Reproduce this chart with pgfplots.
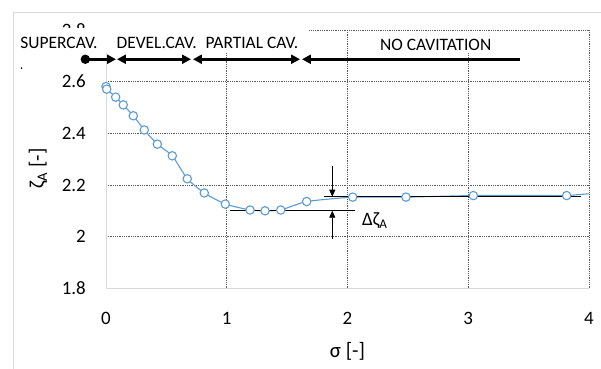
\documentclass[border=0pt]{standalone}
\usepackage{fontspec}
\setmainfont{Carlito}
\usepackage{pgfplots}
\pgfplotsset{compat=1.18}
\usetikzlibrary{arrows.meta}
\definecolor{exblue}{RGB}{91,155,213}
\definecolor{lgray}{RGB}{217,217,217}
\definecolor{ggray}{RGB}{90,90,90}
\begin{document}
\begin{tikzpicture}
\useasboundingbox (-106bp,-80.7bp) rectangle (495bp,288.3bp);
\draw[lgray, line width=0.8bp] (-93bp,-120bp) -- (-93bp,276.3bp) -- (520bp,276.3bp);
\begin{axis}[
 at={(0,0)}, anchor=south west,
 scale only axis, width=483bp, height=258.3bp,
 xmin=0, xmax=4, ymin=1.8, ymax=2.8,
 clip=false,
 axis x line*=bottom, axis y line*=left,
 axis line style={lgray, line width=0.9bp, -},
 xtick={1,2,3,4}, extra x ticks={0}, extra x tick style={grid=none},
 ytick={2,2.2,2.4,2.6,2.8}, extra y ticks={1.8}, extra y tick style={grid=none},
 major tick length=0pt,
 grid=major,
 major grid style={ggray, line width=0.6bp, dash pattern=on 0.9bp off 0.9bp},
 tick label style={font=\fontsize{19}{22}\selectfont},
 /pgf/number format/assume math mode=true,
 yticklabel style={anchor=east, inner sep=0pt, xshift=-20bp},
 xticklabel style={anchor=center, inner sep=0pt, yshift=-30bp},
 xlabel={σ [-]}, ylabel={ζ\textsubscript{A} [-]},
 label style={font=\fontsize{21}{24}\selectfont},
 xlabel style={at={(axis description cs:0.5,-0.2427)}, anchor=center},
 ylabel style={at={(axis description cs:-0.1408,0.4646)}, anchor=center},
]
\addplot[exblue, line width=1.1bp] coordinates {(3.815,2.159) (4.0,2.166)};
\addplot[exblue, line width=1.1bp, smooth, tension=0.3, mark=*, mark size=4.2bp,
  mark options={fill=white, draw=exblue, line width=1.1bp}] coordinates {
 (0.000,2.581) (0.006,2.571) (0.080,2.540) (0.143,2.510) (0.226,2.468)
 (0.317,2.413) (0.425,2.358) (0.549,2.313) (0.673,2.224) (0.814,2.169)
 (0.988,2.126) (1.193,2.103) (1.317,2.100) (1.447,2.103) (1.662,2.136)
 (2.043,2.153) (2.484,2.153) (3.042,2.159) (3.815,2.159)};
\draw[line width=1.4bp] (axis cs:1.027,2.1004) -- (axis cs:2.062,2.1004);
\draw[line width=1.4bp] (axis cs:1.808,2.1546) -- (axis cs:3.93,2.1546);
\draw[line width=0.8bp, -{Triangle[length=7bp,width=6bp]}] (axis cs:1.874,2.274) -- (axis cs:1.874,2.1546);
\draw[line width=0.8bp, -{Triangle[length=7bp,width=6bp]}] (axis cs:1.874,1.990) -- (axis cs:1.874,2.1004);
\node[anchor=west, inner sep=0pt, font=\fontsize{19}{22}\selectfont] at (axis cs:2.12,2.061) {Δζ\textsubscript{A}};
\end{axis}
\begin{scope}[x=120.75bp, y=258.3bp, shift={(0bp,-464.94bp)}]
\fill[white] (-0.753,2.7110) rectangle (1.681,2.8058);
\fill[white] (2.186,2.711) rectangle (3.263,2.796);
\begin{scope}[every node/.style={font=\fontsize{17.5}{20}\selectfont, inner sep=0pt}]
\node at (-0.389,2.7485) {SUPERCAV.};
\node at (0.420,2.7485) {DEVEL.CAV.};
\node at (1.209,2.7485) {PARTIAL CAV.};
\node at (2.730,2.742) {NO CAVITATION};
\end{scope}
\fill (-0.699,2.6525) circle (0.9bp);
\fill (-0.171,2.6867) circle (4.7bp);
\begin{scope}[line width=2.6bp, >={Triangle[length=9bp,width=9bp]}]
\draw[->] (-0.171,2.6867) -- (0.083,2.6867);
\draw[<->] (0.091,2.6867) -- (0.704,2.6867);
\draw[<->] (0.720,2.6867) -- (1.607,2.6867);
\draw[<-] (1.623,2.6867) -- (3.43,2.6867);
\end{scope}
\end{scope}
\end{tikzpicture}
\end{document}
